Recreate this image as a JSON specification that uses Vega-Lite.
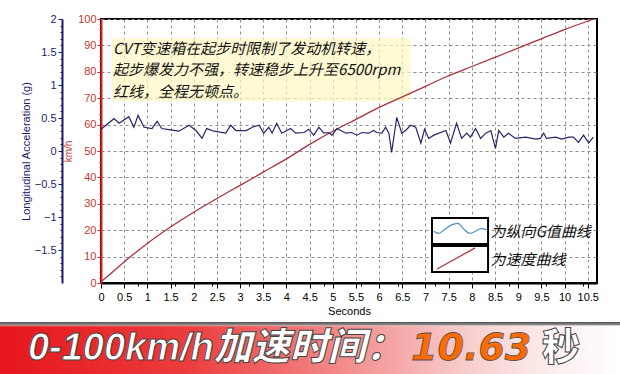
{
  "$schema": "https://vega.github.io/schema/vega-lite/v6.json",
  "padding": {"left": 0, "top": 12, "right": 0, "bottom": 0},
  "background": "white",
  "config": {
    "concat": {"spacing": 5},
    "font": "Liberation Sans",
    "axis": {"labelFont": "Liberation Sans", "titleFont": "Liberation Sans", "titleFontWeight": "normal"},
    "axisX": {"tickCount": 22, "format": "~f",
      "grid": true, "gridDash": [3, 3], "gridColor": "#8c8c8c", "gridWidth": 1,
      "domainColor": "black", "domainWidth": 2, "tickColor": "black", "tickSize": 5,
      "labelColor": "black", "labelFontSize": 11, "labelPadding": 3, "labelFlush": false, "labelOverlap": false,
      "titleColor": "black", "titleFontSize": 11, "titlePadding": 3}
  },
  "datasets": {
    "speed": [
      {"t": 0, "kmh": 0.5}, {"t": 0.25, "kmh": 4.2}, {"t": 0.5, "kmh": 8}, {"t": 1, "kmh": 15}, {"t": 1.5, "kmh": 21.2},
      {"t": 2, "kmh": 26.8}, {"t": 2.5, "kmh": 32}, {"t": 3, "kmh": 37}, {"t": 3.5, "kmh": 42}, {"t": 4, "kmh": 47},
      {"t": 4.5, "kmh": 52.5}, {"t": 5, "kmh": 57.5}, {"t": 5.5, "kmh": 62}, {"t": 6, "kmh": 66.5}, {"t": 6.5, "kmh": 70.5},
      {"t": 7, "kmh": 74.5}, {"t": 7.5, "kmh": 78.5}, {"t": 8, "kmh": 82}, {"t": 8.5, "kmh": 85.5}, {"t": 9, "kmh": 89},
      {"t": 9.5, "kmh": 92.5}, {"t": 10, "kmh": 96}, {"t": 10.63, "kmh": 100}
    ],
    "g": [
      {"t": 0, "g": 0.33}, {"t": 0.28, "g": 0.49}, {"t": 0.39, "g": 0.42}, {"t": 0.6, "g": 0.52}, {"t": 0.71, "g": 0.36},
      {"t": 0.8, "g": 0.54}, {"t": 0.93, "g": 0.36}, {"t": 1.1, "g": 0.34}, {"t": 1.21, "g": 0.45}, {"t": 1.31, "g": 0.34},
      {"t": 1.5, "g": 0.32}, {"t": 1.68, "g": 0.3}, {"t": 1.9, "g": 0.39}, {"t": 2.05, "g": 0.31}, {"t": 2.18, "g": 0.19},
      {"t": 2.28, "g": 0.34}, {"t": 2.44, "g": 0.3}, {"t": 2.69, "g": 0.27}, {"t": 2.8, "g": 0.39}, {"t": 2.91, "g": 0.31},
      {"t": 3.13, "g": 0.31}, {"t": 3.3, "g": 0.37}, {"t": 3.41, "g": 0.39}, {"t": 3.51, "g": 0.27}, {"t": 3.62, "g": 0.36},
      {"t": 3.69, "g": 0.27}, {"t": 3.79, "g": 0.42}, {"t": 3.9, "g": 0.27}, {"t": 4.09, "g": 0.34}, {"t": 4.2, "g": 0.27},
      {"t": 4.38, "g": 0.28}, {"t": 4.48, "g": 0.33}, {"t": 4.59, "g": 0.24}, {"t": 4.7, "g": 0.36}, {"t": 4.81, "g": 0.27},
      {"t": 4.91, "g": 0.28}, {"t": 4.98, "g": 0.24}, {"t": 5.09, "g": 0.34}, {"t": 5.28, "g": 0.27}, {"t": 5.41, "g": 0.28},
      {"t": 5.52, "g": 0.24}, {"t": 5.63, "g": 0.28}, {"t": 5.78, "g": 0.27}, {"t": 5.88, "g": 0.31}, {"t": 5.95, "g": 0.28},
      {"t": 6.06, "g": 0.27}, {"t": 6.14, "g": 0.36}, {"t": 6.21, "g": 0.27}, {"t": 6.27, "g": -0.02}, {"t": 6.38, "g": 0.51},
      {"t": 6.49, "g": 0.27}, {"t": 6.57, "g": 0.31}, {"t": 6.68, "g": 0.39}, {"t": 6.79, "g": 0.36}, {"t": 6.9, "g": 0.12},
      {"t": 6.98, "g": 0.33}, {"t": 7.07, "g": 0.19}, {"t": 7.18, "g": 0.24}, {"t": 7.44, "g": 0.31}, {"t": 7.54, "g": 0.12},
      {"t": 7.67, "g": 0.42}, {"t": 7.78, "g": 0.19}, {"t": 7.89, "g": 0.27}, {"t": 7.97, "g": 0.21}, {"t": 8.08, "g": 0.34},
      {"t": 8.19, "g": 0.19}, {"t": 8.3, "g": 0.27}, {"t": 8.41, "g": 0.31}, {"t": 8.51, "g": 0.04}, {"t": 8.58, "g": 0.31},
      {"t": 8.69, "g": 0.21}, {"t": 8.79, "g": 0.27}, {"t": 8.94, "g": 0.19}, {"t": 9.16, "g": 0.21}, {"t": 9.38, "g": 0.18},
      {"t": 9.48, "g": 0.19}, {"t": 9.55, "g": 0.27}, {"t": 9.61, "g": 0.19}, {"t": 9.81, "g": 0.21}, {"t": 9.94, "g": 0.18},
      {"t": 10.09, "g": 0.21}, {"t": 10.19, "g": 0.21}, {"t": 10.3, "g": 0.13}, {"t": 10.41, "g": 0.24}, {"t": 10.52, "g": 0.12},
      {"t": 10.62, "g": 0.21}
    ],
    "note": [{"t": 0.24, "t2": 6.67, "k": 92.8, "k2": 68.9}],
    "notetext": [
      {"t": 0.26, "k": 88.8, "label": "CVT变速箱在起步时限制了发动机转速，"},
      {"t": 0.26, "k": 80.5, "label": "起步爆发力不强，转速稳步上升至6500rpm"},
      {"t": 0.26, "k": 72.2, "label": "红线，全程无顿点。"}
    ],
    "boxes": [{"t": 7.14, "t2": 8.35, "k": 24.6, "k2": 14.8}, {"t": 7.14, "t2": 8.35, "k": 14.0, "k2": 4.2}],
    "wave": [
      {"t": 7.18, "k": 19.6}, {"t": 7.28, "k": 18.8}, {"t": 7.42, "k": 20.4}, {"t": 7.56, "k": 22.0}, {"t": 7.7, "k": 22.6},
      {"t": 7.82, "k": 20.5}, {"t": 7.96, "k": 18.8}, {"t": 8.08, "k": 19.6}, {"t": 8.2, "k": 20.6}, {"t": 8.32, "k": 20.2}
    ],
    "redsample": [{"t": 7.25, "k": 5.3}, {"t": 8.07, "k": 13.3}],
    "legendtext": [{"t": 8.4, "k": 19.3, "label": "为纵向G值曲线"}, {"t": 8.4, "k": 8.7, "label": "为速度曲线"}],
    "banner": [{"label": "0-100km/h加速时间：", "value": "10.63", "unit": "秒"}]
  },
  "vconcat": [
    {
      "width": 496,
      "height": 264,
      "view": {"stroke": "black", "strokeWidth": 2},
      "resolve": {"scale": {"y": "independent"}, "axis": {"x": "independent"}},
      "layer": [
        {
          "resolve": {"axis": {"y": "independent"}},
          "layer": [
            {
              "data": {"name": "note"},
              "mark": {"type": "rect", "fill": "#fff8c0", "opacity": 0.7},
              "encoding": {
                "x": {"field": "t", "type": "quantitative", "scale": {"domain": [0, 10.7], "nice": false, "zero": false}, "title": "Seconds", "axis": {"tickCount": 22}},
                "x2": {"field": "t2"},
                "y": {"field": "k", "type": "quantitative", "scale": {"domain": [0, 100], "nice": false},
                  "axis": {"orient": "left", "values": [0,2,4,6,8,10,12,14,16,18,20,22,24,26,28,30,32,34,36,38,40,42,44,46,48,50,52,54,56,58,60,62,64,66,68,70,72,74,76,78,80,82,84,86,88,90,92,94,96,98,100],
                    "labels": false, "domain": false, "grid": false, "ticks": true, "tickSize": 2, "tickColor": "#e02020", "title": null}},
                "y2": {"field": "k2"}
              }
            },
            {
              "data": {"name": "speed"},
              "mark": {"type": "line", "color": "#a8323c", "strokeWidth": 1.3, "interpolate": "monotone"},
              "encoding": {
                "x": {"field": "t", "type": "quantitative", "scale": {"domain": [0, 10.7], "nice": false, "zero": false}, "title": "Seconds", "axis": {"tickCount": 22}},
                "y": {"field": "kmh", "type": "quantitative", "scale": {"domain": [0, 100], "nice": false},
                  "axis": {"orient": "left", "values": [0,10,20,30,40,50,60,70,80,90,100], "grid": true, "gridDash": [3, 3], "gridColor": "#8c8c8c",
                    "domainColor": "#e02020", "domainWidth": 2, "tickColor": "#e02020", "tickSize": 4,
                    "labelColor": "#c0392b", "labelFontSize": 11, "labelPadding": 1,
                    "title": "km/h", "titleColor": "#c0392b", "titleFontSize": 10, "titlePadding": 4}}
              }
            },
            {
              "data": {"name": "boxes"},
              "mark": {"type": "rect", "fill": "white", "stroke": "black", "strokeWidth": 2},
              "encoding": {
                "x": {"field": "t", "type": "quantitative", "scale": {"domain": [0, 10.7], "nice": false, "zero": false}, "title": "Seconds", "axis": {"tickCount": 22}},
                "x2": {"field": "t2"},
                "y": {"field": "k", "type": "quantitative", "scale": {"domain": [0, 100], "nice": false}, "axis": null},
                "y2": {"field": "k2"}
              }
            },
            {
              "data": {"name": "wave"},
              "mark": {"type": "line", "color": "#4a90b8", "strokeWidth": 1.2, "interpolate": "monotone"},
              "encoding": {
                "x": {"field": "t", "type": "quantitative", "scale": {"domain": [0, 10.7], "nice": false, "zero": false}, "title": "Seconds", "axis": {"tickCount": 22}},
                "y": {"field": "k", "type": "quantitative", "scale": {"domain": [0, 100], "nice": false}, "axis": null}
              }
            },
            {
              "data": {"name": "redsample"},
              "mark": {"type": "line", "color": "#a8323c", "strokeWidth": 1.2},
              "encoding": {
                "x": {"field": "t", "type": "quantitative", "scale": {"domain": [0, 10.7], "nice": false, "zero": false}, "title": "Seconds", "axis": {"tickCount": 22}},
                "y": {"field": "k", "type": "quantitative", "scale": {"domain": [0, 100], "nice": false}, "axis": null}
              }
            },
            {
              "data": {"name": "legendtext"},
              "mark": {"type": "text", "align": "left", "baseline": "middle", "font": "Noto Sans CJK SC", "fontSize": 15, "fontStyle": "italic", "color": "#111111"},
              "encoding": {
                "x": {"field": "t", "type": "quantitative", "scale": {"domain": [0, 10.7], "nice": false, "zero": false}, "title": "Seconds", "axis": {"tickCount": 22}},
                "y": {"field": "k", "type": "quantitative", "scale": {"domain": [0, 100], "nice": false}, "axis": null},
                "text": {"field": "label"}
              }
            },
            {
              "data": {"name": "notetext"},
              "mark": {"type": "text", "align": "left", "baseline": "middle", "font": "Noto Sans CJK SC", "fontSize": 15, "fontStyle": "italic", "color": "#111111"},
              "encoding": {
                "x": {"field": "t", "type": "quantitative", "scale": {"domain": [0, 10.7], "nice": false, "zero": false}, "title": "Seconds", "axis": {"tickCount": 22}},
                "y": {"field": "k", "type": "quantitative", "scale": {"domain": [0, 100], "nice": false}, "axis": null},
                "text": {"field": "label"}
              }
            }
          ]
        },
        {
          "resolve": {"axis": {"y": "independent"}},
          "layer": [
            {
              "data": {"name": "g"},
              "mark": {"type": "line", "color": "#25256b", "strokeWidth": 1.2},
              "encoding": {
                "x": {"field": "t", "type": "quantitative", "scale": {"domain": [0, 10.7], "nice": false, "zero": false},
                  "axis": {"orient": "bottom", "values": [0,0.1,0.2,0.3,0.4,0.5,0.6,0.7,0.8,0.9,1,1.1,1.2,1.3,1.4,1.5,1.6,1.7,1.8,1.9,2,2.1,2.2,2.3,2.4,2.5,2.6,2.7,2.8,2.9,3,3.1,3.2,3.3,3.4,3.5,3.6,3.7,3.8,3.9,4,4.1,4.2,4.3,4.4,4.5,4.6,4.7,4.8,4.9,5,5.1,5.2,5.3,5.4,5.5,5.6,5.7,5.8,5.9,6,6.1,6.2,6.3,6.4,6.5,6.6,6.7,6.8,6.9,7,7.1,7.2,7.3,7.4,7.5,7.6,7.7,7.8,7.9,8,8.1,8.2,8.3,8.4,8.5,8.6,8.7,8.8,8.9,9,9.1,9.2,9.3,9.4,9.5,9.6,9.7,9.8,9.9,10,10.1,10.2,10.3,10.4,10.5,10.6],
                    "labels": false, "domain": false, "grid": false, "tickSize": 3, "tickColor": "black", "title": null}},
                "y": {"field": "g", "type": "quantitative", "scale": {"domain": [-2, 2], "nice": false},
                  "axis": {"orient": "left", "offset": 39, "values": [-1.5,-1,-0.5,0,0.5,1,1.5,2], "format": "~g", "grid": false,
                    "domainColor": "#1c1c6b", "domainWidth": 2, "tickColor": "#1c1c6b", "tickSize": 4,
                    "labelColor": "#1c1c6b", "labelFontSize": 11, "labelPadding": 2,
                    "title": "Longitudinal Acceleration (g)", "titleColor": "#1c1c6b", "titleFontSize": 11, "titlePadding": 3}}
              }
            },
            {
              "data": {"name": "g"},
              "mark": {"type": "line", "opacity": 0},
              "encoding": {
                "x": {"field": "t", "type": "quantitative", "scale": {"domain": [0, 10.7], "nice": false, "zero": false}},
                "y": {"field": "g", "type": "quantitative", "scale": {"domain": [-2, 2], "nice": false},
                  "axis": {"orient": "left", "offset": 39, "values": [-1.9,-1.8,-1.7,-1.6,-1.5,-1.4,-1.3,-1.2,-1.1,-1,-0.9,-0.8,-0.7,-0.6,-0.5,-0.4,-0.3,-0.2,-0.1,0,0.1,0.2,0.3,0.4,0.5,0.6,0.7,0.8,0.9,1,1.1,1.2,1.3,1.4,1.5,1.6,1.7,1.8,1.9,2],
                    "labels": false, "domain": false, "grid": false, "tickSize": 2, "tickColor": "#1c1c6b", "title": null}}
              }
            }
          ]
        }
      ]
    },
    {
      "width": 519,
      "height": 54,
      "view": {"stroke": null},
      "data": {"name": "banner"},
      "layer": [
        {
          "mark": {"type": "rect", "fill": {"gradient": "linear", "x1": 0, "y1": 0, "x2": 1, "y2": 0,
            "stops": [{"offset": 0, "color": "#e5161b"}, {"offset": 0.3, "color": "#ec3c3c"}, {"offset": 0.55, "color": "#f38a8a"}, {"offset": 0.75, "color": "#f8cccc"}, {"offset": 0.9, "color": "#fcefef"}, {"offset": 1, "color": "#ffffff"}]}},
          "encoding": {
            "x": {"datum": 0, "type": "quantitative", "scale": {"domain": [0.1629, 1], "nice": false, "zero": false}, "axis": null},
            "x2": {"datum": 1}
          }
        },
        {
          "mark": {"type": "rect", "fill": {"gradient": "linear", "x1": 0, "y1": 0, "x2": 0, "y2": 1,
            "stops": [{"offset": 0, "color": "#505050"}, {"offset": 0.05, "color": "#8a8a8a"}, {"offset": 0.09, "color": "rgba(255,255,255,0)"}, {"offset": 1, "color": "rgba(255,255,255,0)"}]}},
          "encoding": {
            "x": {"datum": 0, "type": "quantitative", "scale": {"domain": [0.1629, 1], "nice": false, "zero": false}, "axis": null},
            "x2": {"datum": 1}
          }
        },
        {
          "mark": {"type": "text", "align": "left", "baseline": "middle", "font": "Liberation Sans, Noto Sans CJK SC", "fontSize": 38, "fontWeight": 900, "fontStyle": "italic",
            "fill": "white", "stroke": "#444444", "strokeWidth": 1},
          "encoding": {
            "x": {"datum": 0.045, "type": "quantitative", "scale": {"domain": [0.1629, 1], "nice": false, "zero": false}, "axis": null},
            "text": {"field": "label"}
          }
        },
        {
          "mark": {"type": "text", "align": "left", "baseline": "middle", "font": "DejaVu Sans", "fontSize": 38, "fontWeight": "bold", "fontStyle": "italic",
            "fill": "#ff6a00", "stroke": "#555555", "strokeWidth": 0.8},
          "encoding": {
            "x": {"datum": 0.663, "type": "quantitative", "scale": {"domain": [0.1629, 1], "nice": false, "zero": false}, "axis": null},
            "text": {"field": "value"}
          }
        },
        {
          "mark": {"type": "text", "align": "left", "baseline": "middle", "font": "Noto Sans CJK SC", "fontSize": 38, "fontWeight": 900,
            "fill": "white", "stroke": "#444444", "strokeWidth": 1},
          "encoding": {
            "x": {"datum": 0.874, "type": "quantitative", "scale": {"domain": [0.1629, 1], "nice": false, "zero": false}, "axis": null},
            "text": {"field": "unit"}
          }
        }
      ]
    }
  ]
}
